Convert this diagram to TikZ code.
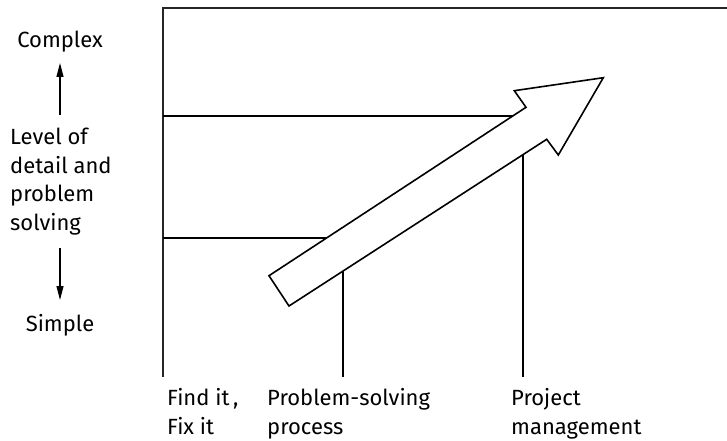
\documentclass[tikz,border=0pt]{standalone}
\usepackage{fontspec}
\setmainfont{Fira Sans}
\usetikzlibrary{arrows.meta}
\begin{document}
\begin{tikzpicture}[x=1pt,y=-1pt,
  frame/.style={line width=1.7pt,draw=black!85},
  guide/.style={line width=1.1pt,draw=black},
  bigarrow/.style={line width=1.6pt,draw=black,fill=white,line join=miter},
  lbl/.style={inner sep=0pt,font=\fontsize{22}{28.5}\selectfont,align=left,anchor=base west},
  clbl/.style={inner sep=0pt,font=\fontsize{22}{28.5}\selectfont,align=center,anchor=base},
  axarrow/.style={line width=1.2pt,-{Triangle[length=14pt,width=7pt]}}]
\useasboundingbox (0,0) rectangle (727,441);
% frame
\coordinate (tl) at (163,8);
\coordinate (tr) at (727,8);
\coordinate (bl) at (163,377);
\draw[frame] (tr) -- (tl) -- (bl);
% guide lines
\coordinate (h1a) at (163,116);
\coordinate (h1b) at (520,116);
\coordinate (h2a) at (163,238);
\coordinate (h2b) at (330,238);
\coordinate (v1a) at (343,265);
\coordinate (v1b) at (343,377);
\coordinate (v2a) at (523,150);
\coordinate (v2b) at (523,377);
\draw[guide] (h1a) -- (h1b);
\draw[guide] (h2a) -- (h2b);
\draw[guide] (v1a) -- (v1b);
\draw[guide] (v2a) -- (v2b);
% big arrow
\coordinate (a1) at (269,275.7);
\coordinate (a2) at (289,306);
\coordinate (a3) at (546.7,139.3);
\coordinate (a4) at (558.3,155);
\coordinate (a5) at (603.3,77.7);
\coordinate (a6) at (514.3,90.7);
\coordinate (a7) at (526,107.3);
\draw[bigarrow] (a1) -- (a2) -- (a3) -- (a4) -- (a5) -- (a6) -- (a7) -- cycle;
% left axis labels
\node[clbl] (complex) at (60,48) {Complex};
\node[lbl] (level) at (10,230) {Level of\\detail and\\problem\\solving};
\node[clbl] (simple) at (60,331) {Simple};
\coordinate (up0) at (60,115);
\coordinate (up1) at (60,63);
\coordinate (dn0) at (60,248);
\coordinate (dn1) at (60,300);
\draw[axarrow] (up0) -- (up1);
\draw[axarrow] (dn0) -- (dn1);
% bottom labels
\node[lbl] (find) at (167,434) {Find it\,,\\Fix it};
\node[lbl] (psp) at (267,434) {Problem-solving\\process};
\node[lbl] (pm) at (511,434) {Project\\management};
\end{tikzpicture}
\end{document}
